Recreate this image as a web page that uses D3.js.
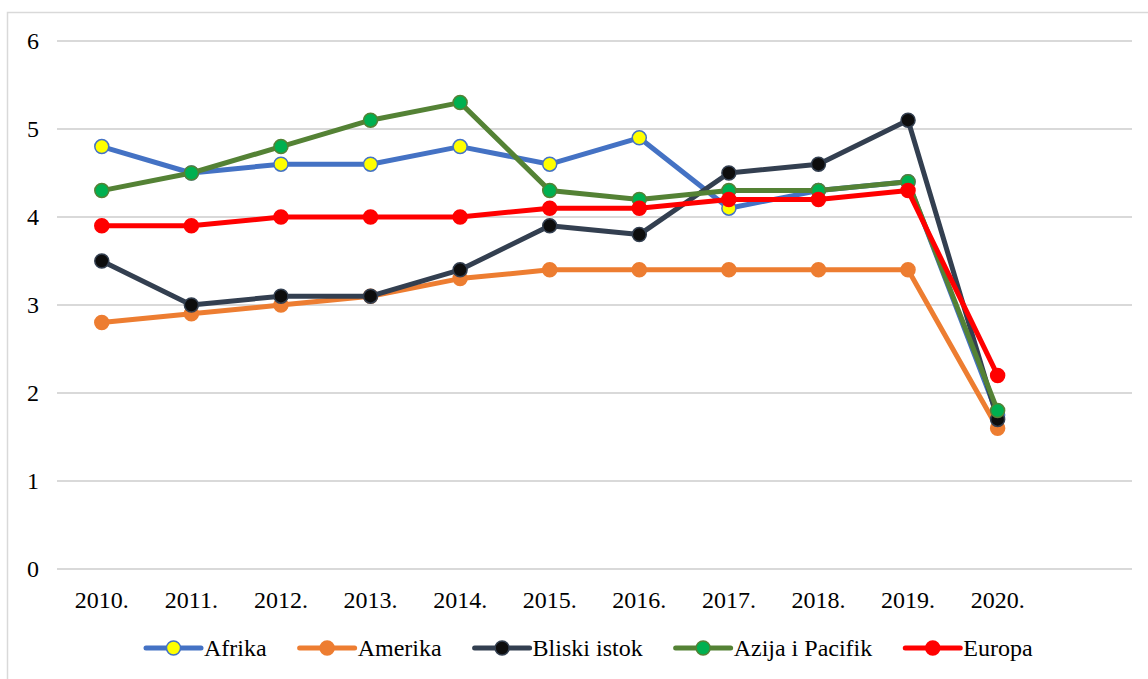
<!DOCTYPE html>
<meta charset="utf-8">
<style>
body { margin: 0; background: #fff; }
text { font-family: "Liberation Serif", "Times New Roman", serif; fill: #000; }
.grid line { stroke: #d9d9d9; stroke-width: 2; shape-rendering: crispEdges; }
</style>
<svg width="1148" height="679"></svg>
<script src="https://cdn.jsdelivr.net/npm/d3@7"></script>
<script>

var years = ["2010.", "2011.", "2012.", "2013.", "2014.", "2015.", "2016.", "2017.", "2018.", "2019.", "2020."];
var afrika = [4.8, 4.5, 4.6, 4.6, 4.8, 4.6, 4.9, 4.1, 4.3, 4.4, 1.75];
var amerika = [2.8, 2.9, 3.0, 3.1, 3.3, 3.4, 3.4, 3.4, 3.4, 3.4, 1.6];
var bliskiIstok = [3.5, 3.0, 3.1, 3.1, 3.4, 3.9, 3.8, 4.5, 4.6, 5.1, 1.7];
var azija = [4.3, 4.5, 4.8, 5.1, 5.3, 4.3, 4.2, 4.3, 4.3, 4.4, 1.8];
var europa = [3.9, 3.9, 4.0, 4.0, 4.0, 4.1, 4.1, 4.2, 4.2, 4.3, 2.2];
var yTicks = [0, 1, 2, 3, 4, 5, 6];

var series = [
  {name: "Afrika", values: afrika, line: "#4472c4", fill: "#ffff00", stroke: "#4472c4"},
  {name: "Amerika", values: amerika, line: "#ed7d31", fill: "#ed7d31", stroke: "#ed7d31"},
  {name: "Bliski istok", values: bliskiIstok, line: "#333f50", fill: "#0d0d0d", stroke: "#333f50"},
  {name: "Azija i Pacifik", values: azija, line: "#548235", fill: "#00b050", stroke: "#548235"},
  {name: "Europa", values: europa, line: "#ff0000", fill: "#ff0000", stroke: "#ff0000"}
];

var svg = d3.select("svg"),
    plotLeft = 57, plotRight = 1132, plotTop = 41, plotBottom = 569;

// chart frame
svg.append("rect")
    .attr("x", 7.5).attr("y", 12.5)
    .attr("width", 1160).attr("height", 700)
    .attr("fill", "none").attr("stroke", "#d9d9d9").attr("stroke-width", 1.5);

// 12 bands, last one left empty like the original
var x = d3.scaleBand().domain(years.concat(["_"])).range([plotLeft, plotRight]);
var y = d3.scaleLinear().domain([0, 6]).range([plotBottom, plotTop]);

function cx(i) { return x(years[i]) + x.bandwidth() / 2; }

var grid = svg.append("g").attr("class", "grid");
grid.selectAll("line").data(yTicks).enter().append("line")
    .attr("x1", plotLeft).attr("x2", plotRight)
    .attr("y1", function(d) { return y(d); })
    .attr("y2", function(d) { return y(d); });

svg.append("g").selectAll("text").data(yTicks).enter().append("text")
    .attr("x", 39).attr("y", function(d) { return y(d); })
    .attr("dy", "0.35em").attr("text-anchor", "end")
    .style("font-size", "24px")
    .text(function(d) { return d; });

svg.append("g").selectAll("text").data(years).enter().append("text")
    .attr("x", function(d, i) { return cx(i); })
    .attr("y", 608)
    .attr("text-anchor", "middle")
    .style("font-size", "24px")
    .text(function(d) { return d; });

var line = d3.line()
    .x(function(d, i) { return cx(i); })
    .y(function(d) { return y(d); });

series.forEach(function(s) {
  var g = svg.append("g");
  g.append("path")
      .attr("d", line(s.values))
      .attr("fill", "none")
      .attr("stroke", s.line)
      .attr("stroke-width", 5)
      .attr("stroke-linejoin", "round");
  g.selectAll("circle").data(s.values).enter().append("circle")
      .attr("cx", function(d, i) { return cx(i); })
      .attr("cy", function(d) { return y(d); })
      .attr("r", 7)
      .attr("fill", s.fill)
      .attr("stroke", s.stroke)
      .attr("stroke-width", 1.5);
});

// legend
var legend = svg.append("g");
var lx = 146, ly = 648;
series.forEach(function(s) {
  var item = legend.append("g").attr("transform", "translate(" + lx + "," + ly + ")");
  item.append("line")
      .attr("x1", 0).attr("x2", 55).attr("y1", 0).attr("y2", 0)
      .attr("stroke", s.line).attr("stroke-width", 5).attr("stroke-linecap", "round");
  item.append("circle")
      .attr("cx", 27.5).attr("cy", 0).attr("r", 7)
      .attr("fill", s.fill).attr("stroke", s.stroke).attr("stroke-width", 1.5);
  var t = item.append("text")
      .attr("x", 58).attr("y", 0).attr("dy", "0.35em")
      .style("font-size", "24px")
      .text(s.name);
  lx += 58 + t.node().getComputedTextLength() + 33;
});

</script>
